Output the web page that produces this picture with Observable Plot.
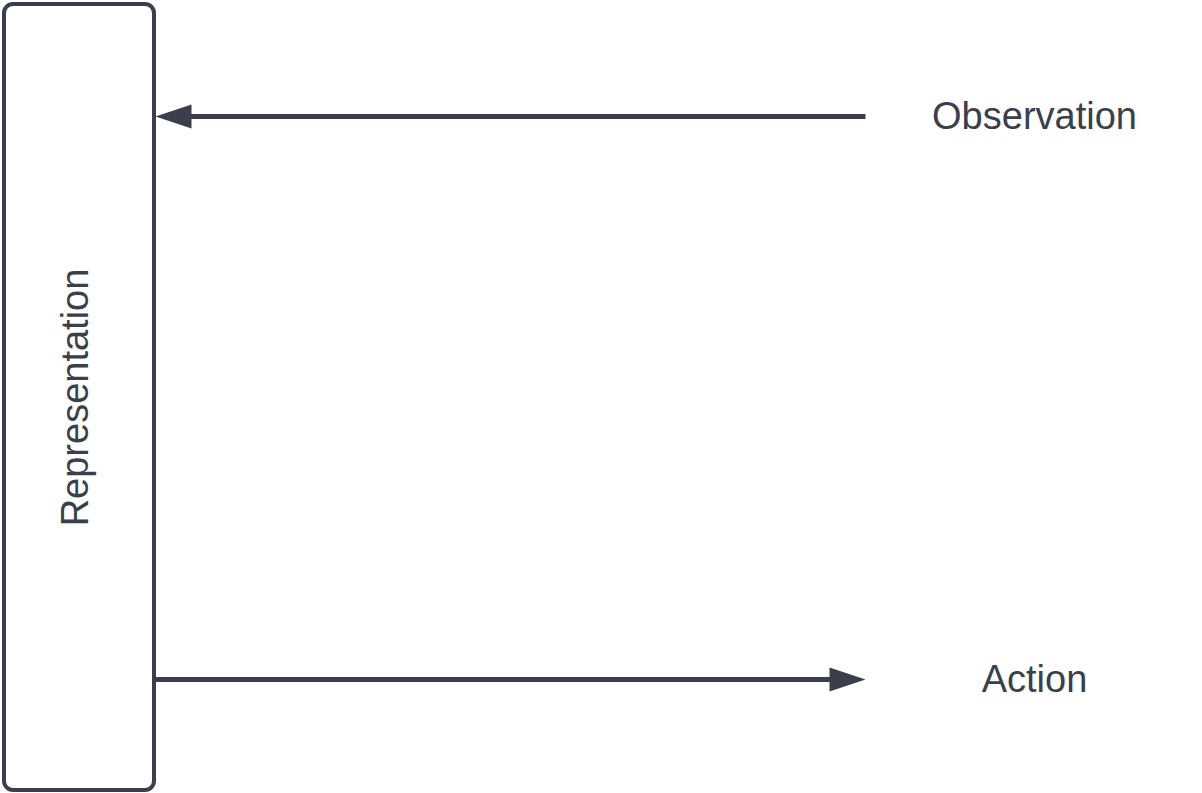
<!DOCTYPE html>
<html>
<head>
<meta charset="utf-8">
<script src="https://cdn.jsdelivr.net/npm/d3@7"></script>
<script src="https://cdn.jsdelivr.net/npm/@observablehq/plot@0.6"></script>
<style>
  body { margin: 0; background: #fff; }
</style>
</head>
<body>
<div id="chart"></div>
<script>
// diagram pieces, in pixel-like units of the canvas
const boxes = [{x1: 4, x2: 154, y1: 4, y2: 790, label: "Representation", cx: 75, cy: 397}];
const arrows = [
  {name: "Observation", from: 865, to: 155, y: 116, labelX: 1034},
  {name: "Action", from: 155, to: 865, y: 679, labelX: 1034}
];
const ink = "#3a3f4b";
const headLen = 36;

// elongated filled triangle, pointing right
const head = {
  draw(ctx) {
    ctx.moveTo(headLen / 2, 0);
    ctx.lineTo(-headLen / 2, -12);
    ctx.lineTo(-headLen / 2, 12);
    ctx.closePath();
  }
};

const dir = d => Math.sign(d.to - d.from);

let chart = Plot.plot({
  width: 1202,
  height: 793,
  margin: 0,
  x: {domain: [0, 1202], axis: null},
  y: {domain: [0, 793], reverse: true, axis: null},
  style: {fontFamily: "Liberation Sans, Arial, sans-serif"},
  marks: [
    Plot.rect(boxes, {x1: "x1", x2: "x2", y1: "y1", y2: "y2", fill: "white", stroke: ink, strokeWidth: 4, rx: 9}),
    Plot.text(boxes, {x: "cx", y: "cy", text: "label", rotate: -90, fontSize: 38, fill: ink}),
    Plot.link(arrows, {x1: "from", x2: d => d.to - dir(d) * (headLen - 4), y1: "y", y2: "y", stroke: ink, strokeWidth: 5}),
    Plot.dot(arrows, {x: d => d.to - dir(d) * headLen / 2, y: "y", symbol: head, fill: ink, stroke: null, r: 10, rotate: d => dir(d) > 0 ? 0 : 180}),
    Plot.text(arrows, {x: "labelX", y: "y", text: "name", fontSize: 38, fill: ink})
  ]
});
d3.select('#chart').append(() => chart);
</script>
</body>
</html>
